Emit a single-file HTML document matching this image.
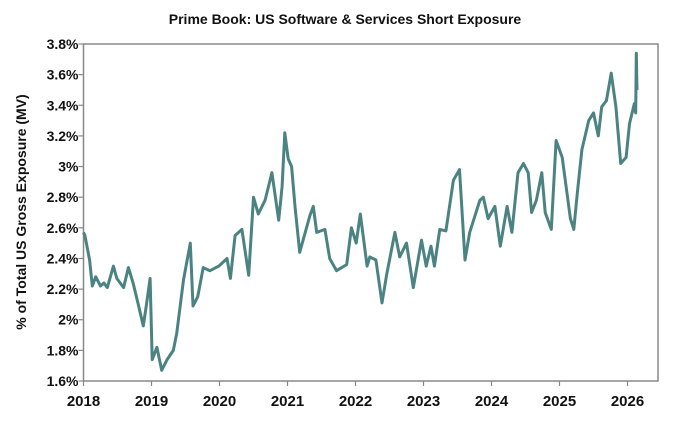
<!DOCTYPE html>
<html><head><meta charset="utf-8"><style>
body{margin:0;background:#fff;width:680px;height:429px;overflow:hidden}
svg{display:block;font-family:"Liberation Sans Narrow","Liberation Sans",sans-serif}
</style></head><body>
<svg id="chart" width="680" height="429">
<text x="345" y="24" text-anchor="middle" font-size="14" font-weight="bold" fill="#111">Prime Book: US Software &amp; Services Short Exposure</text>
<text transform="translate(26,212) rotate(-90)" text-anchor="middle" font-size="14" font-weight="bold" fill="#111">% of Total US Gross Exposure (MV)</text>
</svg>
<script>
const yTicks=[1.6,1.8,2.0,2.2,2.4,2.6,2.8,3.0,3.2,3.4,3.6,3.8];
const yTickLabels=["1.6%","1.8%","2%","2.2%","2.4%","2.6%","2.8%","3%","3.2%","3.4%","3.6%","3.8%"];
const xTicks=[2018,2019,2020,2021,2022,2023,2024,2025,2026];
const times=[0,0.02,0.09,0.13,0.18,0.25,0.30,0.35,0.44,0.49,0.59,0.66,0.73,0.80,0.88,0.93,0.98,1.01,1.08,1.15,1.23,1.32,1.37,1.47,1.57,1.61,1.68,1.76,1.86,1.99,2.11,2.16,2.23,2.33,2.43,2.50,2.57,2.67,2.77,2.87,2.92,2.96,3.01,3.06,3.11,3.18,3.33,3.38,3.43,3.55,3.62,3.72,3.87,3.94,4.01,4.07,4.17,4.21,4.30,4.39,4.46,4.58,4.65,4.75,4.85,4.97,5.04,5.11,5.16,5.24,5.33,5.44,5.53,5.61,5.68,5.83,5.88,5.95,6.05,6.13,6.23,6.30,6.39,6.47,6.54,6.59,6.66,6.74,6.79,6.88,6.95,7.04,7.16,7.21,7.26,7.33,7.43,7.50,7.57,7.62,7.69,7.76,7.83,7.90,7.98,8.03,8.10,8.12,8.13,8.14];
const values=[2.57,2.55,2.39,2.22,2.28,2.22,2.24,2.21,2.35,2.27,2.21,2.34,2.24,2.11,1.96,2.11,2.27,1.74,1.82,1.67,1.74,1.80,1.91,2.26,2.50,2.09,2.15,2.34,2.32,2.35,2.40,2.27,2.55,2.59,2.29,2.80,2.69,2.78,2.96,2.65,2.87,3.22,3.05,3.00,2.74,2.44,2.68,2.74,2.57,2.59,2.40,2.32,2.36,2.60,2.50,2.69,2.35,2.41,2.39,2.11,2.30,2.57,2.41,2.50,2.21,2.52,2.35,2.48,2.35,2.59,2.58,2.91,2.98,2.39,2.57,2.78,2.80,2.66,2.74,2.48,2.74,2.57,2.96,3.02,2.96,2.70,2.78,2.96,2.70,2.59,3.17,3.06,2.66,2.59,2.82,3.11,3.30,3.35,3.20,3.39,3.43,3.61,3.39,3.02,3.06,3.28,3.41,3.35,3.74,3.50];
const svg=document.getElementById('chart');
const NS='http://www.w3.org/2000/svg';
const L=83.5,R=658,T=44,B=381,yMin=1.6,yMax=3.8,x0=2018,pxYear=68;
const X=t=>L+t*pxYear;
const Y=v=>B-(v-yMin)/(yMax-yMin)*(B-T);
function mk(tag,attrs){const e=document.createElementNS(NS,tag);for(const k in attrs)e.setAttribute(k,attrs[k]);svg.appendChild(e);return e;}
const frame=mk('rect',{x:L,y:T,width:R-L,height:B-T,fill:'none',stroke:'#888','stroke-width':1.5});


yTicks.forEach((v,i)=>{
 const tk=mk('line',{x1:L-5,x2:L,y1:Y(v),y2:Y(v),stroke:'#888','stroke-width':1.2});
 
 
 const tx=mk('text',{x:L-5,y:Y(v)+5,'text-anchor':'end','font-size':14,'font-weight':'bold',fill:'#111'});
 tx.textContent=yTickLabels[i];
 
 
});
xTicks.forEach(yr=>{
 const x=X(yr-x0);
 const tk=mk('line',{x1:x,x2:x,y1:B,y2:B+5,stroke:'#888','stroke-width':1.2});
 
 
 const tx=mk('text',{x:x,y:B+25,'text-anchor':'middle','font-size':15,'font-weight':'bold',fill:'#111'});
 tx.textContent=String(yr);
 
 
});
const d=times.map((t,i)=>(i?'L':'M')+X(t).toFixed(1)+','+Y(values[i]).toFixed(1)).join(' ');
const line=mk('path',{d:d,fill:'none',stroke:'#4b8382','stroke-width':3,'stroke-linejoin':'round'});


</script>
</body></html>
